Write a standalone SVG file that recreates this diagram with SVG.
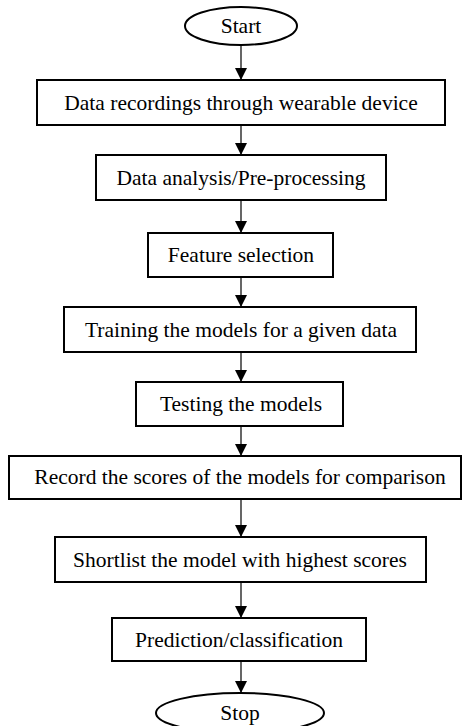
<svg xmlns="http://www.w3.org/2000/svg" width="462" height="726" viewBox="0 0 462 726">
<style>
.box{fill:#fff;stroke:#000;stroke-width:2}
.t{font-family:"Liberation Serif","Times New Roman",serif;font-size:21.5px;fill:#000;text-anchor:middle}
.c{stroke:#000;stroke-width:1.2;fill:none;marker-end:url(#ah)}
</style>
<defs>
<marker id="ah" markerUnits="userSpaceOnUse" markerWidth="12" markerHeight="13" refX="12" refY="6" orient="auto">
<path d="M0,0 L12,6 L0,12 Z" fill="#000"/>
</marker>
</defs>
<g id="connectors">
<line class="c" x1="241" y1="45" x2="241" y2="80"/>
<line class="c" x1="241" y1="125" x2="241" y2="155"/>
<line class="c" x1="241" y1="200" x2="241" y2="233"/>
<line class="c" x1="241" y1="277" x2="241" y2="307"/>
<line class="c" x1="241" y1="352" x2="241" y2="382"/>
<line class="c" x1="241" y1="426" x2="241" y2="456"/>
<line class="c" x1="241" y1="499" x2="241" y2="537"/>
<line class="c" x1="241" y1="582" x2="241" y2="618"/>
<line class="c" x1="241" y1="661" x2="241" y2="693"/>
</g>
<g id="start"><ellipse class="box" cx="241" cy="26" rx="56" ry="19"/><text class="t" x="241" y="33">Start</text></g>
<g id="n1"><rect class="box" x="37" y="80" width="408" height="45"/><text class="t" x="241" y="110">Data recordings through wearable device</text></g>
<g id="n2"><rect class="box" x="96" y="155" width="290" height="45"/><text class="t" x="241" y="185">Data analysis/Pre-processing</text></g>
<g id="n3"><rect class="box" x="148" y="233" width="185" height="44"/><text class="t" x="241" y="262">Feature selection</text></g>
<g id="n4"><rect class="box" x="64" y="307" width="352" height="45"/><text class="t" x="241" y="337">Training the models for a given data</text></g>
<g id="n5"><rect class="box" x="136" y="382" width="207" height="44"/><text class="t" x="241" y="411">Testing the models</text></g>
<g id="n6"><rect class="box" x="9" y="456" width="452" height="43"/><text class="t" x="240" y="484">Record the scores of the models for comparison</text></g>
<g id="n7"><rect class="box" x="55" y="537" width="371" height="45"/><text class="t" x="240" y="567">Shortlist the model with highest scores</text></g>
<g id="n8"><rect class="box" x="112" y="618" width="254" height="43"/><text class="t" x="239" y="647">Prediction/classification</text></g>
<g id="stop"><ellipse class="box" cx="240" cy="713" rx="84" ry="20"/><text class="t" x="240" y="720">Stop</text></g>
</svg>
